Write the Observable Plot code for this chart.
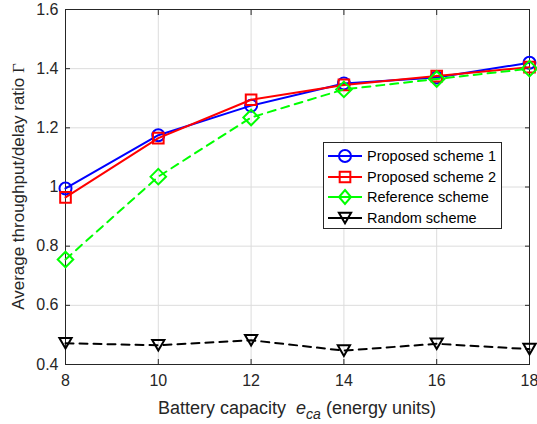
<!DOCTYPE html>
<html>
<head>
<meta charset="utf-8">
<script src="https://cdn.jsdelivr.net/npm/d3@7"></script>
<script src="https://cdn.jsdelivr.net/npm/@observablehq/plot@0.6"></script>
<style>
  html, body { margin: 0; padding: 0; background: #fff; }
  #wrap { position: relative; width: 537px; height: 424px; font-family: "Liberation Sans", Arial, Helvetica, sans-serif; }
  #legend { position: absolute; left: 323px; top: 142px; width: 177px; height: 85px; border: 1px solid #262626; background: #fff; box-sizing: content-box; }
  .item { position: absolute; left: 3px; height: 20px; display: flex; align-items: center; font-size: 14.5px; color: #000; }
  .item svg { margin-right: 4px; }
</style>
</head>
<body>
<div id="wrap"></div>
<script>
const capacities = [8, 10, 12, 14, 16, 18];
const proposed1 = [0.995, 1.175, 1.275, 1.350, 1.370, 1.420];
const proposed2 = [0.965, 1.165, 1.295, 1.345, 1.375, 1.405];
const reference = [0.755, 1.035, 1.235, 1.330, 1.365, 1.400];
const random = [0.472, 0.465, 0.482, 0.447, 0.470, 0.452];
const seriesNames = ["Proposed scheme 1", "Proposed scheme 2", "Reference scheme", "Random scheme"];
const xTicks = [8, 10, 12, 14, 16, 18];
const yTicks = [0.4, 0.6, 0.8, 1, 1.2, 1.4, 1.6];

const triDown = {
  draw(context, size) {
    const s = Math.sqrt(size) * 1.15;
    const h = s * Math.sqrt(3) / 2;
    context.moveTo(-s / 2, -h / 2);
    context.lineTo(s / 2, -h / 2);
    context.lineTo(0, h / 2);
    context.closePath();
  }
};

const rows = (vals) => capacities.map((c, i) => ({x: c, y: vals[i]}));
const d1 = rows(proposed1), d2 = rows(proposed2), d3r = rows(reference), d4 = rows(random);

const plot = Plot.plot({
  width: 537,
  height: 424,
  marginLeft: 65,
  marginRight: 8,
  marginTop: 9,
  marginBottom: 60,
  style: {fontFamily: '"Liberation Sans", Arial, Helvetica, sans-serif', fontSize: "16px", color: "#262626", background: "#fff"},
  x: {domain: [8, 18], label: null},
  y: {domain: [0.4, 1.6], label: null},
  marks: [
    Plot.gridX(xTicks, {stroke: "#dcdcdc", strokeOpacity: 1}),
    Plot.gridY(yTicks, {stroke: "#dcdcdc", strokeOpacity: 1}),
    Plot.frame({stroke: "#262626"}),
    Plot.axisX(xTicks, {anchor: "bottom", tickSize: -5, tickPadding: 15, tickFormat: d => String(d), fill: "#262626", stroke: "#262626", fontSize: 16}),
    Plot.axisX(xTicks, {anchor: "top", tickSize: -5, tickFormat: () => "", stroke: "#262626"}),
    Plot.axisY(yTicks, {anchor: "left", tickSize: -5, tickPadding: 12, tickFormat: d => d3.format("~g")(d), fill: "#262626", stroke: "#262626", fontSize: 16}),
    Plot.axisY(yTicks, {anchor: "right", tickSize: -5, tickFormat: () => "", stroke: "#262626"}),
    Plot.line(d1, {x: "x", y: "y", stroke: "#0000ff", strokeWidth: 2}),
    Plot.dot(d1, {x: "x", y: "y", symbol: "circle", r: 6, stroke: "#0000ff", strokeWidth: 2, fill: "none"}),
    Plot.line(d2, {x: "x", y: "y", stroke: "#ff0000", strokeWidth: 2}),
    Plot.dot(d2, {x: "x", y: "y", symbol: "square", r: 6, stroke: "#ff0000", strokeWidth: 2, fill: "none"}),
    Plot.line(d3r, {x: "x", y: "y", stroke: "#00ff00", strokeWidth: 2, strokeDasharray: "8,6"}),
    Plot.dot(d3r, {x: "x", y: "y", symbol: "diamond2", r: 7, stroke: "#00ff00", strokeWidth: 2, fill: "none"}),
    Plot.line(d4, {x: "x", y: "y", stroke: "#000000", strokeWidth: 2, strokeDasharray: "8,6"}),
    Plot.dot(d4, {x: "x", y: "y", symbol: triDown, r: 6, stroke: "#000000", strokeWidth: 2, fill: "none"})
  ]
});

const wrap = document.getElementById("wrap");
wrap.appendChild(plot);

// Axis titles
const svg = d3.select(plot);
const xs = plot.scale("x"), ys = plot.scale("y");
const xMid = (xs.range[0] + xs.range[1]) / 2;
const yMid = (ys.range[0] + ys.range[1]) / 2;
const xt = svg.append("text")
  .attr("x", xMid).attr("y", 414)
  .attr("text-anchor", "middle")
  .attr("fill", "#262626")
  .style("font-size", "18px");
xt.append("tspan").text("Battery capacity  ");
xt.append("tspan").attr("font-style", "italic").text("e");
xt.append("tspan").attr("font-style", "italic").attr("dy", 5).style("font-size", "14px").text("ca");
xt.append("tspan").attr("dy", -5).text(" (energy units)");

const yt = svg.append("text")
  .attr("transform", `translate(24,${yMid}) rotate(-90)`)
  .attr("text-anchor", "middle")
  .attr("fill", "#262626")
  .style("font-size", "17px");
yt.append("tspan").text("Average throughput/delay ratio ");
yt.append("tspan").attr("font-family", '"Liberation Serif", "DejaVu Serif", serif').text("Γ");

// Legend
const legend = document.createElement("div");
legend.id = "legend";
wrap.appendChild(legend);
const legSpec = [
  {name: seriesNames[0], color: "#0000ff", sym: d3.symbolCircle},
  {name: seriesNames[1], color: "#ff0000", sym: d3.symbolSquare},
  {name: seriesNames[2], color: "#00ff00", sym: "diamond"},
  {name: seriesNames[3], color: "#000000", sym: triDown}
];
legSpec.forEach((s, i) => {
  const item = document.createElement("div");
  item.className = "item";
  item.style.top = (3 + i * 20.5) + "px";
  const ns = "http://www.w3.org/2000/svg";
  const sv = document.createElementNS(ns, "svg");
  sv.setAttribute("width", 36); sv.setAttribute("height", 20);
  const ln = document.createElementNS(ns, "line");
  ln.setAttribute("x1", 1); ln.setAttribute("x2", 35); ln.setAttribute("y1", 10); ln.setAttribute("y2", 10);
  ln.setAttribute("stroke", s.color); ln.setAttribute("stroke-width", 2);
  sv.appendChild(ln);
  const p = document.createElementNS(ns, "path");
  let dpath;
  if (s.sym === "diamond") {
    dpath = "M0,-7L6,0L0,7L-6,0Z";
  } else {
    dpath = d3.symbol(s.sym, Math.PI * 36)();
  }
  p.setAttribute("d", dpath);
  p.setAttribute("transform", "translate(18,10)");
  p.setAttribute("fill", "none"); p.setAttribute("stroke", s.color); p.setAttribute("stroke-width", 2);
  sv.appendChild(p);
  item.appendChild(sv);
  const t = document.createElement("span");
  t.textContent = s.name;
  item.appendChild(t);
  legend.appendChild(item);
});
</script>
</body>
</html>
